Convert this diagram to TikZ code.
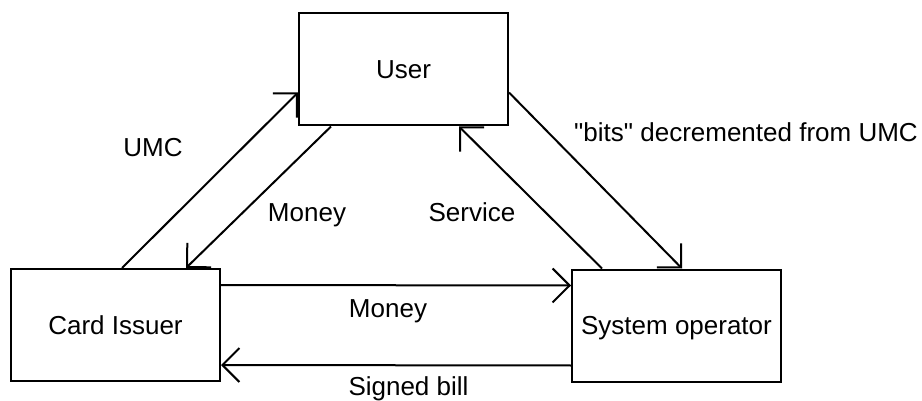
\documentclass[tikz,border=0pt]{standalone}
\usepackage{fontspec}
\setmainfont{Liberation Sans}
\usetikzlibrary{arrows.meta}
% straight double quote, set as a glyph so no text mapping curls it
\newcommand\plaindq{\XeTeXglyph\XeTeXcharglyph"22\relax}
\begin{document}
\begin{tikzpicture}[x=1pt,y=-1pt,
  every node/.style={font=\fontsize{26}{30}\selectfont},
  party/.style={draw,line width=2pt,minimum width=209pt,minimum height=112pt,
    inner sep=0pt,text height=18.6pt,text depth=0pt},
  flow/.style={line width=2pt,-{Straight Barb[length=17pt,width=34pt,line join=miter]}},
  lbl/.style={anchor=base,inner sep=0pt}]
\useasboundingbox[fill=white] (0,0) rectangle (922,401);

% the three parties
\node[party] (user)  at (403.5,69.5) {User};
\node[party] (card)  at (115.5,325)  {Card Issuer};
\node[party] (sysop) at (676.5,325.5) {System operator};

% flows between them
\draw[flow] ([xshift=112pt]card.north west) -- ([yshift=-80pt]user.north west);
\draw[flow] ([xshift=33pt]user.south west)  -- ([xshift=176pt]card.north west);
\draw[flow] ([xshift=31pt]sysop.north west) -- ([xshift=161pt]user.south west);
\draw[flow] ([yshift=-80pt]user.north east) -- ([xshift=111pt]sysop.north west);
\draw[flow] ([yshift=-17pt]card.north east) -- ([yshift=-17pt]sysop.north west);
\draw[flow] ([yshift=-97pt]sysop.north west) -- ([yshift=-97pt]card.north east);

% flow labels
\node[lbl] (lumc)  at (153,157)   {UMC};
\node[lbl] (lmon1) at (307,222)   {Money};
\node[lbl] (lserv) at (472,222)   {Service};
\node[lbl] (lbits) at (746,142)   {\plaindq bits\plaindq{} decremented from UMC};
\node[lbl] (lmon2) at (388,317)   {Money};
\node[lbl] (lbill) at (408.5,395) {Signed bill};
\end{tikzpicture}
\end{document}
